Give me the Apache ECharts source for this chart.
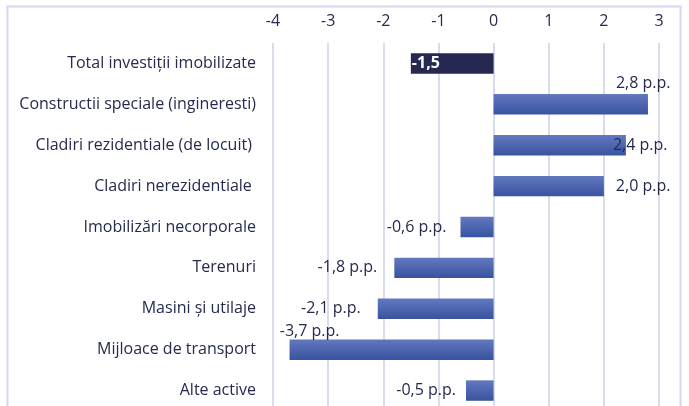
<!DOCTYPE html>
<html>
<head>
    <meta charset="UTF-8">
    <title>Contributii la dinamica investitiilor</title>
    <script src="https://cdn.jsdelivr.net/npm/echarts@6/dist/echarts.min.js"></script>
    <style>
        html, body { margin: 0; padding: 0; background: #fff; }
    </style>
</head>
<body>
<div id="chart" style="width:689px;height:406px;"></div>
<script type="text/javascript">

    var categories = [
        'Total investiții imobilizate',
        'Constructii speciale (ingineresti)',
        'Cladiri rezidentiale (de locuit) ',
        'Cladiri nerezidentiale ',
        'Imobilizări necorporale',
        'Terenuri',
        'Masini și utilaje',
        'Mijloace de transport',
        'Alte active'
    ];
    var values = [-1.5, 2.8, 2.4, 2.0, -0.6, -1.8, -2.1, -3.7, -0.5];
    var axisTicks = [-4, -3, -2, -1, 0, 1, 2, 3];

    var textColor = '#262a4e';
    var font = 'Open Sans';
    var fontSize = 16;
    var blueBar = new echarts.graphic.LinearGradient(0, 0, 0, 1, [
        {offset: 0, color: '#6378bf'},
        {offset: 1, color: '#3953a0'}
    ]);

    // label placement per bar (like the excel original, some are moved by hand)
    var labelTweaks = {
        0: {position: 'insideLeft', distance: 1, color: '#fff', fontWeight: 'bold'},
        1: {position: 'right', distance: 0, offset: [-32, -21]},
        2: {position: 'right', distance: 0, offset: [-13, 0]},
        3: {position: 'right', distance: 12},
        4: {position: 'left', distance: 14},
        5: {position: 'left', distance: 17},
        6: {position: 'left', distance: 17},
        7: {position: 'left', distance: 0, offset: [50, -18]},
        8: {position: 'left', distance: 10}
    };

    function fmt(v) {
        return v.toFixed(1).replace('.', ',');
    }

    var barData = values.map(function (v, i) {
        var lab = Object.assign({
            show: true,
            color: textColor,
            fontSize: fontSize,
            fontFamily: font,
            formatter: i === 0 ? fmt(v) : fmt(v) + ' p.p.'
        }, labelTweaks[i]);
        return {
            value: v,
            itemStyle: {color: i === 0 ? '#262852' : blueBar},
            label: lab
        };
    });

    var myChart = echarts.init(document.getElementById('chart'));

    myChart.setOption({
        animation: false,
        textStyle: {fontFamily: font},
        graphic: [{
            type: 'rect',
            shape: {x: 7.5, y: 6.5, width: 673, height: 420},
            style: {fill: 'none', stroke: '#d3d6ec', lineWidth: 2},
            silent: true
        }],
        grid: {
            left: 273,
            right: 30,
            top: 43,
            height: 368,
            outerBoundsMode: 'none'
        },
        xAxis: {
            type: 'value',
            position: 'top',
            min: axisTicks[0],
            max: axisTicks[axisTicks.length - 1],
            interval: 1,
            axisLine: {show: false},
            axisTick: {show: false},
            axisLabel: {
                color: textColor,
                fontSize: fontSize,
                fontFamily: font,
                margin: 14
            },
            splitLine: {lineStyle: {color: '#d9dbee', width: 2}}
        },
        yAxis: {
            type: 'category',
            inverse: true,
            data: categories,
            axisLine: {show: false},
            axisTick: {show: false},
            axisLabel: {
                color: textColor,
                fontSize: fontSize,
                fontFamily: font,
                margin: 17
            }
        },
        series: [{
            type: 'bar',
            barWidth: '50%',
            data: barData
        }]
    });
</script>
</body>
</html>
